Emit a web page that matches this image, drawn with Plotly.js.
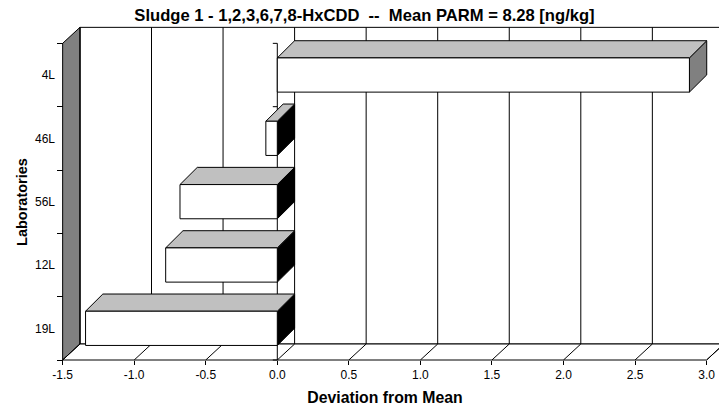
<!DOCTYPE html>
<html>
<head>
<meta charset="utf-8">
<script src="https://cdn.plot.ly/plotly-3.0.1.min.js"></script>
<style>
  html, body { margin: 0; padding: 0; background: #fff; }
  #chart { width: 719px; height: 409px; }
</style>
</head>
<body>
<div id="chart"></div>
<script>
// Laboratories, listed top to bottom as they appear on the category axis
const labs = ['4L', '46L', '56L', '12L', '19L'];
// Deviation of each laboratory from the mean
const devs = [2.88, -0.08, -0.68, -0.78, -1.34];
// Value axis ticks
const xTicks = [-1.5, -1.0, -0.5, 0.0, 0.5, 1.0, 1.5, 2.0, 2.5, 3.0];
const xTickText = ['-1.5', '-1.0', '-0.5', '0.0', '0.5', '1.0', '1.5', '2.0', '2.5', '3.0'];

const chartTitle = 'Sludge 1 - 1,2,3,6,7,8-HxCDD  --  Mean PARM = 8.28 [ng/kg]';
const xTitle = 'Deviation from Mean';
const yTitle = 'Laboratories';

// ---- page geometry (pixels) ----
const W = 719, H = 409;
const M = { l: 51, r: 0, t: 24, b: 29 };
const plotW = W - M.l - M.r, plotH = H - M.t - M.b;
const ZERO_PX = 277.3;   // pixel column of value 0 on the front plane
const X_SCALE = 143.1;   // pixels per unit
const FRONT_BOTTOM = 360; // pixel row of the floor's front edge
const BAND = 63.33;      // pixels per category band

const xAt = px => (px - ZERO_PX) / X_SCALE;
const yAt = py => -0.5 + (FRONT_BOTTOM - py) / BAND;
const xRange = [xAt(M.l), xAt(W - M.r)];
const yRange = [yAt(H - M.b), yAt(M.t)];

// depth of the walls and of the boxes, converted to axis units
const WDX = 17.3 / X_SCALE, WDY = 16 / BAND;
const BDX = 17.3 / X_SCALE, BDY = 17.2 / BAND;
const HALF = 17.1 / BAND;

const FONT = "'Liberation Sans', Arial, Helvetica, sans-serif";
const n = labs.length;
const xMin = xTicks[0], xMax = xTicks[xTicks.length - 1];
const yLo = -0.5, yHi = n - 0.5;

function poly(pts, fill) {
  const xs = pts.map(p => p[0]), ys = pts.map(p => p[1]);
  xs.push(pts[0][0]); ys.push(pts[0][1]);
  return {
    x: xs, y: ys, type: 'scatter', mode: 'lines', fill: 'toself',
    fillcolor: fill, line: { color: '#000', width: 1 },
    hoverinfo: 'skip', showlegend: false
  };
}
function segs(list, width) {
  const xs = [], ys = [];
  list.forEach(s => { xs.push(s[0][0], s[1][0], null); ys.push(s[0][1], s[1][1], null); });
  return {
    x: xs, y: ys, type: 'scatter', mode: 'lines',
    line: { color: '#000', width: width || 1 },
    hoverinfo: 'skip', showlegend: false
  };
}

const traces = [];
// back wall
traces.push(poly([[xMin + WDX, yLo + WDY], [xMax + WDX, yLo + WDY], [xMax + WDX, yHi + WDY], [xMin + WDX, yHi + WDY]], '#ffffff'));
// left side wall
traces.push(poly([[xMin, yLo], [xMin, yHi], [xMin + WDX, yHi + WDY], [xMin + WDX, yLo + WDY]], '#808080'));
// floor
traces.push(poly([[xMin, yLo], [xMax, yLo], [xMax + WDX, yLo + WDY], [xMin + WDX, yLo + WDY]], '#ffffff'));
// gridlines on the back wall and across the floor
traces.push(segs(xTicks.map(t => [[t + WDX, yLo + WDY], [t + WDX, yHi + WDY]])));
traces.push(segs(xTicks.map(t => [[t, yLo], [t + WDX, yLo + WDY]])));
// category axis at zero with its tick marks
const bounds = [];
for (let k = 0; k <= n; k++) bounds.push(k - 0.5);
traces.push(segs([[[0, yLo], [0, yHi]]].concat(bounds.map(b => [[-4.5 / X_SCALE, b], [0, b]]))));

// boxes, drawn from the floor upward
for (let i = n - 1; i >= 0; i--) {
  const yc = n - 1 - i;
  const v = devs[i];
  const x0 = Math.min(0, v), x1 = Math.max(0, v);
  const yb = yc - HALF, yt = yc + HALF;
  traces.push(poly([[x1, yb], [x1 + BDX, yb + BDY], [x1 + BDX, yt + BDY], [x1, yt]], v >= 0 ? '#808080' : '#000000'));
  traces.push(poly([[x0, yt], [x1, yt], [x1 + BDX, yt + BDY], [x0 + BDX, yt + BDY]], '#c0c0c0'));
  traces.push(poly([[x0, yb], [x1, yb], [x1, yt], [x0, yt]], '#ffffff'));
}

const layout = {
  width: W, height: H,
  margin: M,
  paper_bgcolor: '#fff', plot_bgcolor: 'rgba(0,0,0,0)',
  showlegend: false,
  font: { family: FONT, color: '#000', size: 12 },
  title: {
    text: chartTitle,
    font: { family: FONT, size: 16.6, color: '#000', weight: 'bold' },
    xref: 'container', x: 364.5 / W, xanchor: 'center',
    yref: 'container', y: 1 - 15 / H, yanchor: 'middle'
  },
  xaxis: {
    range: xRange, anchor: 'free', position: (H - M.b - FRONT_BOTTOM) / plotH,
    tickmode: 'array', tickvals: xTicks, ticktext: xTickText,
    ticks: 'outside', ticklen: 4, tickcolor: '#000', tickwidth: 1,
    tickfont: { family: FONT, size: 12, color: '#000' },
    showgrid: false, zeroline: false, showline: false, fixedrange: true,
    title: { text: xTitle, font: { family: FONT, size: 15.8, color: '#000', weight: 'bold' }, standoff: 10 }
  },
  yaxis: {
    range: yRange, anchor: 'free', position: (63 - M.l) / plotW,
    tickmode: 'array', tickvals: labs.map((_, i) => n - 1 - i), ticktext: labs,
    ticks: '', ticklabelstandoff: 8,
    minor: { tickmode: 'array', tickvals: bounds, ticks: 'outside', ticklen: 6, tickcolor: '#000', tickwidth: 1 },
    tickfont: { family: FONT, size: 12, color: '#000' },
    showgrid: false, zeroline: false, showline: false, fixedrange: true,
    title: { text: yTitle, font: { family: FONT, size: 14.5, color: '#000', weight: 'bold' }, standoff: 2 }
  }
};

Plotly.newPlot('chart', traces, layout, { staticPlot: true, displayModeBar: false });
</script>
</body>
</html>
